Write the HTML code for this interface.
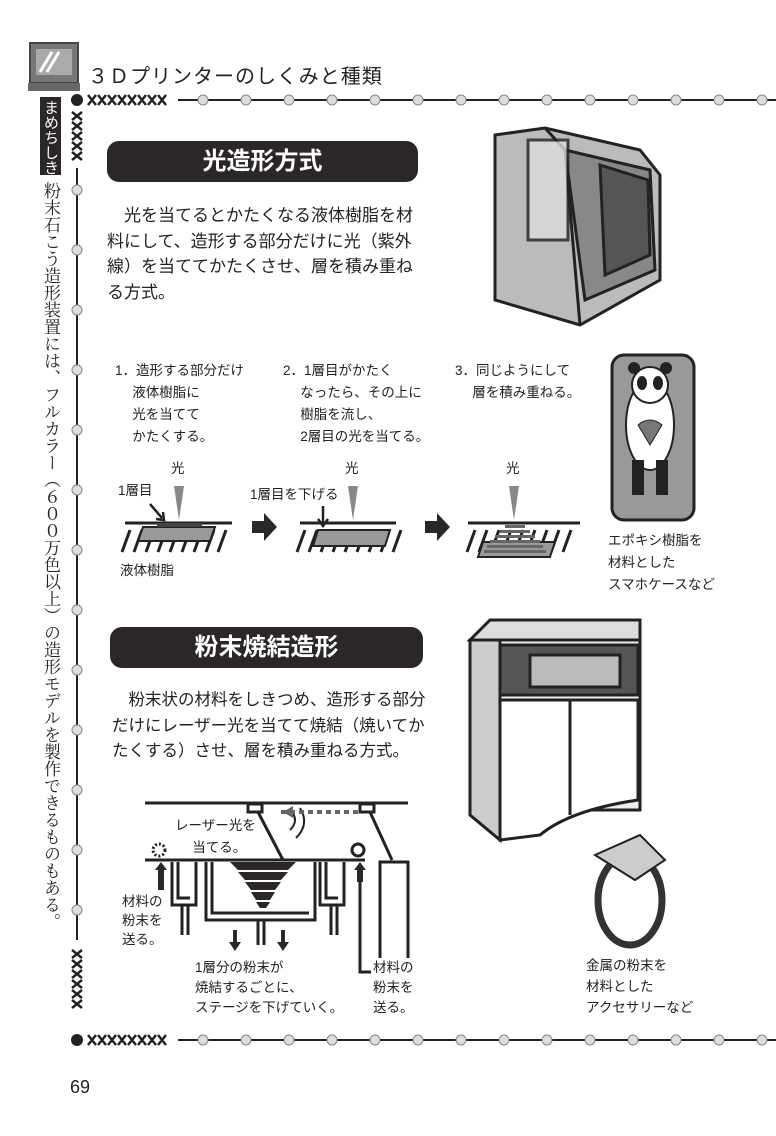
<!DOCTYPE html>
<html><head><meta charset="utf-8"><style>
body{margin:0;width:776px;height:1136px;background:#fff;position:relative;overflow:hidden;font-family:"Liberation Sans","Noto Sans CJK JP",sans-serif;color:#222}
.a{position:absolute}
.ban{position:absolute;background:#2b2727;border-radius:12px;color:#fff;font-weight:bold;font-size:24px;text-align:center;line-height:41px;height:41px}
.p{position:absolute;font-size:17px;line-height:25.5px;letter-spacing:0;white-space:nowrap}
.s{position:absolute;font-size:13.5px;line-height:22px;white-space:nowrap}
.v{position:absolute;writing-mode:vertical-rl;font-size:17px;line-height:20px}
</style></head><body>
<svg class="a" style="left:0;top:0" width="776" height="1136">
 <rect x="30" y="43" width="48" height="40" fill="#777" stroke="#444" stroke-width="2"/>
 <rect x="36" y="49" width="36" height="26" fill="#aaa"/>
 <line x1="40" y1="72" x2="52" y2="52" stroke="#fff" stroke-width="3"/><line x1="47" y1="72" x2="59" y2="52" stroke="#fff" stroke-width="3"/>
 <rect x="28" y="83" width="52" height="8" fill="#666"/>
 <circle cx="77" cy="100" r="6" fill="#222"/>
 <g stroke="#222" stroke-width="2.5" fill="none">
  <path d="M88 95 l8 10 M96 95 l-8 10 M98 95 l8 10 M106 95 l-8 10 M108 95 l8 10 M116 95 l-8 10 M118 95 l8 10 M126 95 l-8 10 M128 95 l8 10 M136 95 l-8 10 M138 95 l8 10 M146 95 l-8 10 M148 95 l8 10 M156 95 l-8 10 M158 95 l8 10 M166 95 l-8 10"/>
  <path d="M72 112 l10 8 M82 112 l-10 8 M72 122 l10 8 M82 122 l-10 8 M72 132 l10 8 M82 132 l-10 8 M72 142 l10 8 M82 142 l-10 8 M72 152 l10 8 M82 152 l-10 8"/>
  <path d="M72 950 l10 8 M82 950 l-10 8 M72 960 l10 8 M82 960 l-10 8 M72 970 l10 8 M82 970 l-10 8 M72 980 l10 8 M82 980 l-10 8 M72 990 l10 8 M82 990 l-10 8 M72 1000 l10 8 M82 1000 l-10 8"/>
  <path d="M88 1035 l8 10 M96 1035 l-8 10 M98 1035 l8 10 M106 1035 l-8 10 M108 1035 l8 10 M116 1035 l-8 10 M118 1035 l8 10 M126 1035 l-8 10 M128 1035 l8 10 M136 1035 l-8 10 M138 1035 l8 10 M146 1035 l-8 10 M148 1035 l8 10 M156 1035 l-8 10 M158 1035 l8 10 M166 1035 l-8 10"/>
 </g>
 <circle cx="77" cy="1040" r="6" fill="#222"/>
 <line x1="178" y1="100" x2="776" y2="100" stroke="#222" stroke-width="2"/>
 <line x1="178" y1="1040" x2="776" y2="1040" stroke="#222" stroke-width="2"/>
 <line x1="77" y1="168" x2="77" y2="940" stroke="#222" stroke-width="2"/>
 <g fill="#ddd" stroke="#888">
  <circle cx="203" cy="100" r="5"/><circle cx="246" cy="100" r="5"/><circle cx="289" cy="100" r="5"/><circle cx="332" cy="100" r="5"/><circle cx="375" cy="100" r="5"/><circle cx="418" cy="100" r="5"/><circle cx="461" cy="100" r="5"/><circle cx="504" cy="100" r="5"/><circle cx="547" cy="100" r="5"/><circle cx="590" cy="100" r="5"/><circle cx="633" cy="100" r="5"/><circle cx="676" cy="100" r="5"/><circle cx="719" cy="100" r="5"/><circle cx="762" cy="100" r="5"/>
  <circle cx="203" cy="1040" r="5"/><circle cx="246" cy="1040" r="5"/><circle cx="289" cy="1040" r="5"/><circle cx="332" cy="1040" r="5"/><circle cx="375" cy="1040" r="5"/><circle cx="418" cy="1040" r="5"/><circle cx="461" cy="1040" r="5"/><circle cx="504" cy="1040" r="5"/><circle cx="547" cy="1040" r="5"/><circle cx="590" cy="1040" r="5"/><circle cx="633" cy="1040" r="5"/><circle cx="676" cy="1040" r="5"/><circle cx="719" cy="1040" r="5"/><circle cx="762" cy="1040" r="5"/>
  <circle cx="77" cy="190" r="5"/><circle cx="77" cy="250" r="5"/><circle cx="77" cy="310" r="5"/><circle cx="77" cy="370" r="5"/><circle cx="77" cy="430" r="5"/><circle cx="77" cy="490" r="5"/><circle cx="77" cy="550" r="5"/><circle cx="77" cy="610" r="5"/><circle cx="77" cy="670" r="5"/><circle cx="77" cy="730" r="5"/><circle cx="77" cy="790" r="5"/><circle cx="77" cy="850" r="5"/><circle cx="77" cy="910" r="5"/>
 </g>
 <g stroke="#222" stroke-width="3" fill="#ccc">
  <path d="M495 135 L545 128 L640 150 L660 175 L660 280 L580 325 L495 300 Z" fill="#bbb"/>
  <path d="M545 128 L565 150 L580 325" fill="none"/>
  <path d="M565 150 L650 170 L655 270 L585 300 Z" fill="#888"/>
  <path d="M600 165 L648 180 L650 255 L605 275 Z" fill="#555"/>
  <rect x="528" y="140" width="40" height="100" fill="#ddd" opacity=".8"/>
 </g>
 <rect x="612" y="355" width="82" height="165" rx="12" fill="#999" stroke="#222" stroke-width="3"/>
 <ellipse cx="650" cy="425" rx="24" ry="45" fill="#fff" stroke="#222" stroke-width="2"/>
 <circle cx="650" cy="385" r="18" fill="#fff" stroke="#222" stroke-width="2"/>
 <ellipse cx="642" cy="383" rx="5" ry="7" fill="#222"/><ellipse cx="658" cy="383" rx="5" ry="7" fill="#222"/>
 <circle cx="634" cy="368" r="6" fill="#222"/><circle cx="666" cy="368" r="6" fill="#222"/>
 <path d="M638 425 q12 -10 24 0 l-12 20z" fill="#777" stroke="#222"/>
 <rect x="632" y="460" width="12" height="35" fill="#222"/><rect x="656" y="460" width="12" height="35" fill="#222"/>
 <g stroke="#222" stroke-width="3" fill="#fff">
  <path d="M470 640 L490 620 L640 620 L640 640 Z" fill="#ddd"/>
  <rect x="470" y="640" width="170" height="170" fill="#eee"/>
  <path d="M470 640 L500 640 L500 840 L470 815 Z" fill="#ccc"/>
  <rect x="500" y="645" width="138" height="50" fill="#555"/>
  <rect x="530" y="655" width="90" height="32" fill="#bbb"/>
  <path d="M500 700 L638 700 L638 800 Q570 810 540 835 L500 840 Z" fill="#fff"/>
  <line x1="570" y1="700" x2="570" y2="815"/>
 </g>
 <ellipse cx="630" cy="900" rx="32" ry="45" fill="none" stroke="#333" stroke-width="7"/>
 <path d="M595 855 L640 835 L665 860 L635 880 Z" fill="#ccc" stroke="#222" stroke-width="2"/>
 <g stroke="#222" stroke-width="3" fill="none">
  <line x1="125" y1="523" x2="232" y2="523"/>
  <line x1="300" y1="523" x2="396" y2="523"/>
  <line x1="468" y1="523" x2="580" y2="523"/>
  <path d="M130 530 l-8 22 M142 530 l-8 22 M154 530 l-8 22 M166 530 l-8 22 M178 530 l-8 22 M190 530 l-8 22 M202 530 l-8 22 M214 530 l-8 22 M226 530 l-8 22"/>
  <path d="M305 530 l-8 22 M317 530 l-8 22 M329 530 l-8 22 M341 530 l-8 22 M353 530 l-8 22 M365 530 l-8 22 M377 530 l-8 22 M389 530 l-8 22 M401 530 l-8 22"/>
  <path d="M475 530 l-8 22 M487 530 l-8 22 M499 530 l-8 22 M511 530 l-8 22 M523 530 l-8 22 M535 530 l-8 22 M547 530 l-8 22 M559 530 l-8 22 M571 530 l-8 22"/>
 </g>
 <path d="M143 527 L215 527 L210 541 L138 541 Z" fill="#999" stroke="#222" stroke-width="2"/>
 <rect x="157" y="523" width="45" height="4" fill="#444"/>
 <path d="M318 530 L390 530 L385 546 L313 546 Z" fill="#999" stroke="#222" stroke-width="2"/>
 <path d="M483 542 L555 542 L550 557 L478 557 Z" fill="#999" stroke="#222" stroke-width="2"/>
 <g fill="#666"><rect x="505" y="525" width="20" height="3"/><rect x="500" y="530" width="30" height="3"/><rect x="495" y="535" width="40" height="3"/><rect x="490" y="540" width="50" height="3"/><rect x="487" y="545" width="56" height="3"/><rect x="484" y="550" width="62" height="3"/></g>
 <path d="M174 486 L184 486 L179 520 Z" fill="#888"/>
 <path d="M348 486 L358 486 L353 520 Z" fill="#888"/>
 <path d="M509 486 L519 486 L514 520 Z" fill="#888"/>
 <path d="M150 504 L162 518 M156 519 L164 520 L163 512" stroke="#222" stroke-width="2.5" fill="none"/>
 <path d="M323 506 L323 525 M318 519 L323 526 L328 519" stroke="#222" stroke-width="2.5" fill="none"/>
 <path d="M252 521 h12 v-8 l13 14 l-13 14 v-8 h-12z" fill="#2b2727"/>
 <path d="M425 521 h12 v-8 l13 14 l-13 14 v-8 h-12z" fill="#2b2727"/>
 <g stroke="#222" stroke-width="3" fill="none">
  <line x1="145" y1="803" x2="408" y2="803"/>
  <rect x="248" y="804" width="14" height="8"/><rect x="360" y="804" width="14" height="8"/>
  <line x1="258" y1="812" x2="283" y2="860"/><line x1="370" y1="812" x2="392" y2="860"/>
  <line x1="145" y1="860" x2="365" y2="860"/>
  <path d="M172 862 V905 H196 V862 M178 862 V898 H190"/>
  <path d="M206 862 V920 H315 V862 M212 862 V913 H309"/>
  <path d="M320 862 V905 H344 V862 M326 862 V898 H338"/>
  <path d="M182 905 V935 M188 905 V935 M258 920 V945 M264 920 V945 M331 905 V935 M337 905 V935"/>
  <path d="M371 972 H360 V880"/>
  <path d="M380 1000 V862 H408 V1000"/>
  <path d="M290 830 q10 -10 0 -20 M296 838 q14 -14 4 -30" stroke-width="2"/>
  <circle cx="358" cy="850" r="6"/>
  <circle cx="159" cy="850" r="6" stroke-dasharray="2 2"/>
 </g>
 <g fill="#2b2727">
  <path d="M230 862 H296 L288 870 H238Z"/><path d="M238 872 H288 L281 880 H245Z"/><path d="M245 882 H281 L275 890 H251Z"/><path d="M251 892 H275 L270 900 H256Z"/><path d="M256 902 H270 L266 908 H260Z"/>
  <path d="M155 870 l6 -8 l6 8 h-3 v20 h-6 v-20z"/>
  <path d="M354 870 l6 -8 l6 8 h-3 v12 h-6 v-12z"/>
  <path d="M233 930 v12 h-4 l6 9 l6 -9 h-4 v-12z"/>
  <path d="M281 930 v12 h-4 l6 9 l6 -9 h-4 v-12z"/>
 </g>
 <path d="M358 812 H280" stroke="#666" stroke-width="4" stroke-dasharray="5 4"/>
 <path d="M283 812 l10 -6 v12z" fill="#666"/>
</svg>

<div class="a" style="left:88px;top:60px;font-size:20px;letter-spacing:1px">３Ｄプリンターのしくみと種類</div>
<div class="a" style="left:40px;top:97px;width:21px;height:78px;background:#2b2727"></div>
<div class="v" style="left:42px;top:100px;color:#fff;font-size:15px;line-height:17px">まめちしき</div>
<div class="v" style="left:40px;top:182px;height:760px;font-family:'Liberation Serif','Noto Serif CJK SC',serif;font-size:17px;line-height:20px">粉末石こう造形装置には、フルカラー（６００万色以上）の造形モデルを製作できるものもある。</div>

<div class="ban" style="left:107px;top:141px;width:311px">光造形方式</div>
<div class="p" style="left:107px;top:203px">　光を当てるとかたくなる液体樹脂を材<br>料にして、造形する部分だけに光（紫外<br>線）を当ててかたくさせ、層を積み重ね<br>る方式。</div>

<div class="s" style="left:115px;top:360px">1．造形する部分だけ<br>　 液体樹脂に<br>　 光を当てて<br>　 かたくする。</div>
<div class="s" style="left:283px;top:360px">2．1層目がかたく<br>　 なったら、その上に<br>　 樹脂を流し、<br>　 2層目の光を当てる。</div>
<div class="s" style="left:455px;top:360px">3．同じようにして<br>　 層を積み重ねる。</div>
<div class="s" style="left:171px;top:458px">光</div>
<div class="s" style="left:345px;top:458px">光</div>
<div class="s" style="left:506px;top:458px">光</div>
<div class="s" style="left:118px;top:480px">1層目</div>
<div class="s" style="left:250px;top:484px">1層目を下げる</div>
<div class="s" style="left:120px;top:560px">液体樹脂</div>
<div class="s" style="left:608px;top:530px">エポキシ樹脂を<br>材料とした<br>スマホケースなど</div>

<div class="ban" style="left:110px;top:627px;width:313px">粉末焼結造形</div>
<div class="p" style="left:112px;top:688px;font-size:16.5px">　粉末状の材料をしきつめ、造形する部分<br>だけにレーザー光を当てて焼結（焼いてか<br>たくする）させ、層を積み重ねる方式。</div>

<div class="s" style="left:175px;top:815px">レーザー光を<br>　 当てる。</div>
<div class="s" style="left:122px;top:892px;line-height:19px">材料の<br>粉末を<br>送る。</div>
<div class="s" style="left:195px;top:958px;line-height:20px">1層分の粉末が<br>焼結するごとに、<br>ステージを下げていく。</div>
<div class="s" style="left:373px;top:958px;line-height:20px;background:#fff">材料の<br>粉末を<br>送る。</div>
<div class="s" style="left:586px;top:955px;line-height:21px">金属の粉末を<br>材料とした<br>アクセサリーなど</div>

<div class="a" style="left:70px;top:1077px;font-size:18px">69</div>
</body></html>
